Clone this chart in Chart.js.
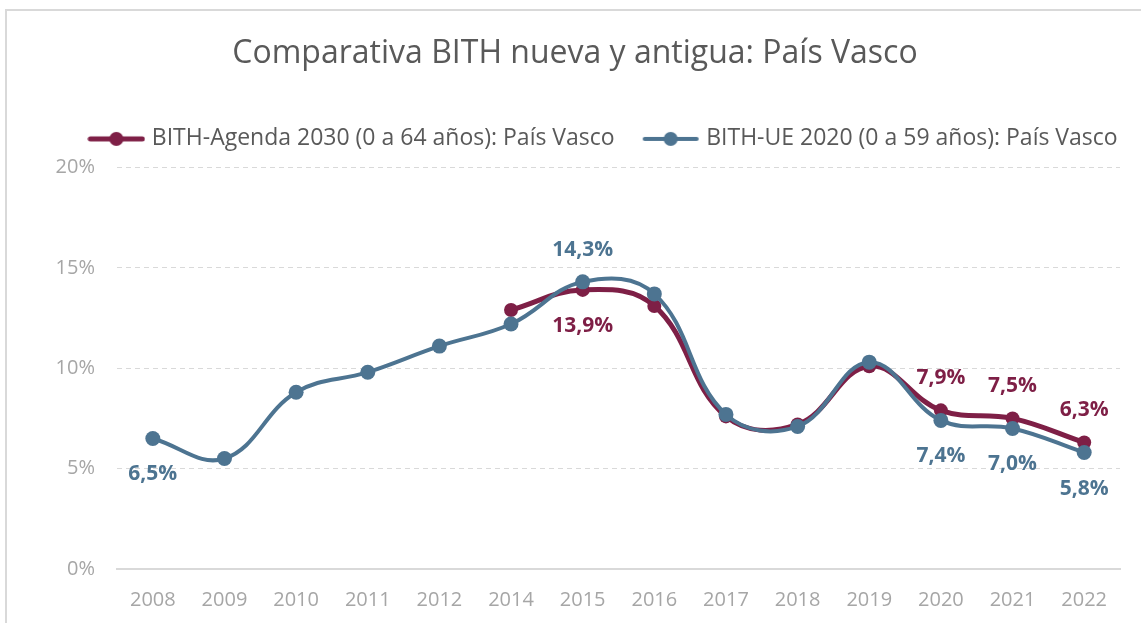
<!DOCTYPE html>
<html lang="es">
<head>
<meta charset="utf-8">
<title>Comparativa BITH nueva y antigua: País Vasco</title>
<script src="https://cdn.jsdelivr.net/npm/chart.js@4"></script>
<style>
  html, body { margin: 0; padding: 0; background: #fff; overflow: hidden; }
  #marco { position: absolute; left: 5px; top: 9px; width: 1200px; height: 700px;
           border-left: 2px solid #d9d9d9; border-top: 2px solid #d9d9d9; }
  #grafico { position: absolute; left: 0; top: 0; }
</style>
</head>
<body>
<div id="marco"></div>
<canvas id="grafico" width="1141" height="623"></canvas>
<script>
// Datos (en %)
const anios = ['2008', '2009', '2010', '2011', '2012', '2014', '2015', '2016', '2017', '2018', '2019', '2020', '2021', '2022'];
const bithAgenda2030 = [null, null, null, null, null, 12.9, 13.9, 13.1, 7.6, 7.2, 10.1, 7.9, 7.5, 6.3];
const bithUE2020 = [6.5, 5.5, 8.8, 9.8, 11.1, 12.2, 14.3, 13.7, 7.7, 7.1, 10.3, 7.4, 7.0, 5.8];
const ticksEjeY = [0, 5, 10, 15, 20];

// Años que llevan etiqueta de valor y cuáles van encima del punto
const etiquetasAgenda2030 = ['2015', '2020', '2021', '2022'];
const etiquetasAgenda2030Arriba = ['2020', '2021', '2022'];
const etiquetasUE2020 = ['2008', '2015', '2020', '2021', '2022'];
const etiquetasUE2020Arriba = ['2015'];

const colorAgenda = '#7e1f46';
const colorUE = '#4d7491';
const fuente = '"Open Sans", Lato, sans-serif';

function formato(v) {
    return v.toFixed(1).replace('.', ',') + '%';
}

// Marca de leyenda: línea con punto, como en Excel
function marcaLeyenda(color, grosor) {
    const c = document.createElement('canvas');
    c.width = 58;
    c.height = 18;
    const g = c.getContext('2d');
    g.strokeStyle = color;
    g.lineWidth = grosor;
    g.lineCap = 'round';
    g.beginPath();
    g.moveTo(3, 9);
    g.lineTo(55, 9);
    g.stroke();
    g.fillStyle = color;
    g.beginPath();
    g.arc(29, 9, 7, 0, Math.PI * 2);
    g.fill();
    return c;
}

// Etiquetas de valor encima / debajo de los puntos
const etiquetasValor = {
    id: 'etiquetasValor',
    afterDatasetsDraw(chart) {
        const ctx = chart.ctx;
        ctx.save();
        ctx.font = 'bold 21px ' + fuente;
        ctx.textAlign = 'center';
        ctx.textBaseline = 'middle';
        chart.data.datasets.forEach((ds, i) => {
            const meta = chart.getDatasetMeta(i);
            ds.etiquetas.forEach(anio => {
                const idx = anios.indexOf(anio);
                const p = meta.data[idx];
                const arriba = ds.etiquetasArriba.includes(anio);
                ctx.fillStyle = ds.borderColor;
                ctx.fillText(formato(ds.data[idx]), p.x, p.y + (arriba ? -32 : 36));
            });
        });
        ctx.restore();
    }
};

// Más aire bajo la leyenda; título y leyenda algo desplazados a la derecha
const ajusteCabecera = {
    id: 'ajusteCabecera',
    beforeLayout(chart) {
        const ley = chart.legend;
        if (ley && !ley._ajustada) {
            const fit = ley.fit;
            ley.fit = function () {
                fit.call(this);
                this.height += 7;
            };
            ley._ajustada = true;
        }
    },
    afterLayout(chart) {
        if (chart.legend) {
            chart.legend.left += 45;
            chart.legend.right += 45;
        }
        if (chart.titleBlock) {
            chart.titleBlock.left += 15;
            chart.titleBlock.right += 15;
        }
    }
};

const ctx = document.getElementById('grafico').getContext('2d');

new Chart(ctx, {
    type: 'line',
    data: {
        labels: anios,
        datasets: [
            {
                label: 'BITH-Agenda 2030 (0 a 64 años): País Vasco',
                data: bithAgenda2030,
                borderColor: colorAgenda,
                backgroundColor: colorAgenda,
                borderWidth: 5,
                pointRadius: 7,
                pointBorderWidth: 0,
                pointBackgroundColor: colorAgenda,
                tension: 0.4,
                order: 1,
                etiquetas: etiquetasAgenda2030,
                etiquetasArriba: etiquetasAgenda2030Arriba,
                marca: marcaLeyenda(colorAgenda, 5)
            },
            {
                label: 'BITH-UE 2020 (0 a 59 años): País Vasco',
                data: bithUE2020,
                borderColor: colorUE,
                backgroundColor: colorUE,
                borderWidth: 4,
                pointRadius: 7.5,
                pointBorderWidth: 0,
                pointBackgroundColor: colorUE,
                tension: 0.4,
                order: 0,
                etiquetas: etiquetasUE2020,
                etiquetasArriba: etiquetasUE2020Arriba,
                marca: marcaLeyenda(colorUE, 4)
            }
        ]
    },
    options: {
        responsive: false,
        animation: false,
        layout: {
            padding: { left: 0, right: 21, top: 0, bottom: 0 }
        },
        plugins: {
            title: {
                display: true,
                text: 'Comparativa BITH nueva y antigua: País Vasco',
                color: '#595959',
                font: { family: fuente, size: 32, weight: 'normal' },
                padding: { top: 35, bottom: 22 }
            },
            legend: {
                position: 'top',
                labels: {
                    usePointStyle: true,
                    pointStyleWidth: 48,
                    color: '#595959',
                    font: { family: fuente, size: 23 },
                    padding: 32,
                    sort: (a, b) => a.datasetIndex - b.datasetIndex,
                    generateLabels(chart) {
                        const items = Chart.defaults.plugins.legend.labels.generateLabels(chart);
                        items.forEach(it => {
                            it.pointStyle = chart.data.datasets[it.datasetIndex].marca;
                        });
                        return items;
                    }
                }
            },
            tooltip: { enabled: false }
        },
        scales: {
            x: {
                offset: true,
                grid: { display: false, drawTicks: false },
                border: { display: true, color: '#d9d9d9', width: 2 },
                ticks: {
                    color: '#a6a6a6',
                    font: { family: fuente, size: 20 },
                    padding: 19
                },
                afterFit(scale) { scale.height = 54; }
            },
            y: {
                min: 0,
                max: 20,
                afterBuildTicks(scale) {
                    scale.ticks = ticksEjeY.map(v => ({ value: v }));
                },
                grid: { color: '#d9d9d9', lineWidth: 1, drawTicks: false },
                border: { display: false, dash: [5, 4] },
                ticks: {
                    color: '#a6a6a6',
                    font: { family: fuente, size: 20 },
                    padding: 22,
                    callback: v => v + '%'
                },
                afterFit(scale) { scale.width = 117; }
            }
        }
    },
    plugins: [etiquetasValor, ajusteCabecera]
});
</script>
</body>
</html>
